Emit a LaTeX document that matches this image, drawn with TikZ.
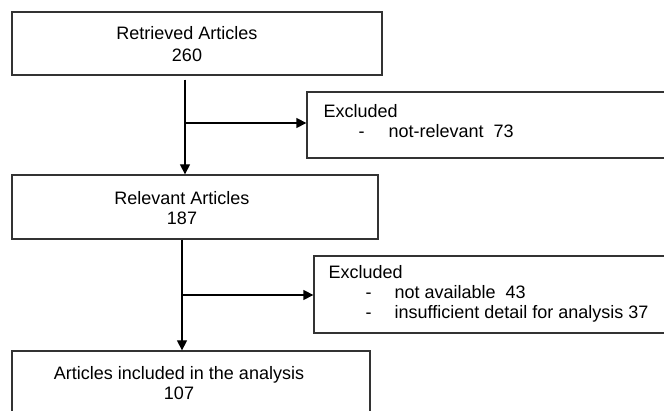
\documentclass[tikz,border=0pt]{standalone}
\usepackage{fontspec}
\setmainfont{Liberation Sans}
\usetikzlibrary{arrows.meta}

\tikzset{
  box/.style={draw=black!80, rectangle, inner sep=0pt},
  txt/.style={inner sep=0pt, font=\fontsize{18}{20}\selectfont},
}

\begin{document}
\begin{tikzpicture}[x=1pt, y=-1pt, line width=1.3pt, >={Triangle[length=10pt,width=10pt]}]
\useasboundingbox (0,0) rectangle (664,411);
\clip (0,0) rectangle (664,411);
% boxes
\node[box, minimum width=362pt, minimum height=66pt] (exc1) at (488,125) {};
\node[box, minimum width=356pt, minimum height=77pt] (exc2) at (492,294.5) {};
\node[box, minimum width=370pt, minimum height=63pt] (ret) at (197,43.5) {};
\node[box, minimum width=366pt, minimum height=64pt] (rel) at (195,207) {};
\node[box, minimum width=358pt, minimum height=80pt] (fin) at (191,391) {};
% texts
\node[txt, align=center, font=\fontsize{18}{22}\selectfont] (rett) at (187,44) {Retrieved Articles\\260};
\node[txt, align=left, anchor=west] (exct1) at (323,121) {Excluded\\\hspace*{35pt}-\hspace*{24pt}not-relevant\ \ 73};
\node[txt, align=center] (relt) at (182,208) {Relevant Articles\\187};
\node[txt, align=left, anchor=west] (exct2) at (328,294) {Excluded\\\hspace*{37pt}-\hspace*{23pt}not available\ \ 43\\\hspace*{37pt}-\hspace*{23pt}insufficient detail for analysis 37};
\node[txt, align=center] (fint) at (179,383) {Articles included in the analysis\\107};
% connectors
\coordinate (b1) at (185,123);
\coordinate (b2) at (182,295);
\draw[->] ([yshift=-4pt]ret.south -| b1) -- (rel.north -| b1);
\draw[->] (b1) -- (exc1.west |- b1);
\draw[->] (rel.south -| b2) -- (fin.north -| b2);
\draw[->] (b2) -- (exc2.west |- b2);
\end{tikzpicture}
\end{document}
